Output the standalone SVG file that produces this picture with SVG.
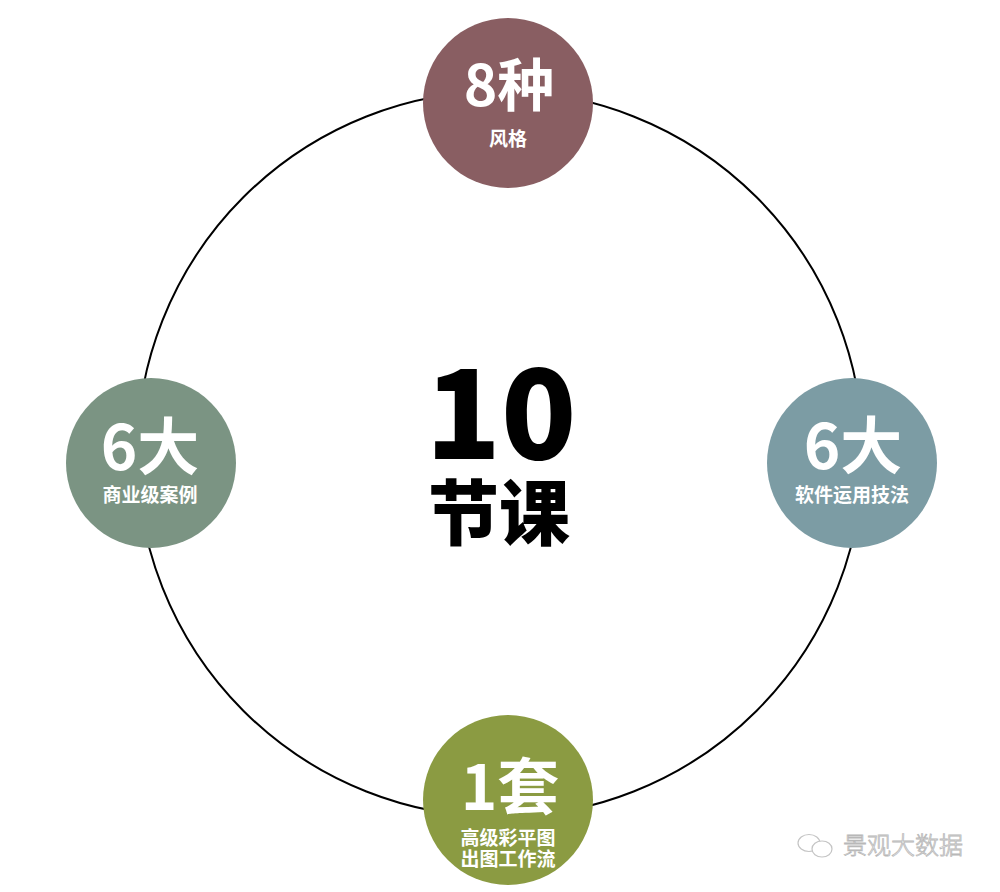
<svg xmlns="http://www.w3.org/2000/svg" width="1000" height="892" viewBox="0 0 1000 892">
<style>
.big{font-family:"Noto Sans CJK SC","Noto Sans",sans-serif;font-weight:700;fill:#fff;text-anchor:middle}
.sub{font-family:"Noto Sans CJK SC","Noto Sans",sans-serif;font-weight:700;fill:#fff;text-anchor:middle;font-size:19px}
.ctr{font-family:"Noto Sans CJK SC","Noto Sans",sans-serif;font-weight:900;fill:#000;text-anchor:middle}
</style>
<rect width="1000" height="892" fill="#fff"/>
<g id="connectors">
<circle cx="500" cy="454" r="363" fill="none" stroke="#000" stroke-width="2"/>
</g>
<g id="center">
<text class="ctr" x="501" y="459" font-size="124">10</text>
<text class="ctr" x="499" y="539" font-size="71">节课</text>
</g>
<g id="top">
<circle cx="508" cy="103" r="85" fill="#895E62"/>
<text class="big" x="509" y="106" font-size="57">8种</text>
<text class="sub" x="508" y="146">风格</text>
</g>
<g id="left">
<circle cx="151" cy="463" r="85" fill="#7B9483"/>
<text class="big" x="150" y="470" font-size="62">6大</text>
<text class="sub" x="150" y="502">商业级案例</text>
</g>
<g id="right">
<circle cx="852" cy="463" r="85" fill="#7C9CA4"/>
<text class="big" x="853" y="469" font-size="62">6大</text>
<text class="sub" x="852" y="502">软件运用技法</text>
</g>
<g id="bottom">
<circle cx="508" cy="800" r="85" fill="#8B9B42"/>
<text class="big" x="510" y="810" font-size="62">1套</text>
<text class="sub" x="508" y="845">高级彩平图</text>
<text class="sub" x="508" y="866">出图工作流</text>
</g>
<g id="watermark" fill="#fff" stroke="#c4c4c4" stroke-width="1.2">
<ellipse cx="809" cy="843" rx="11" ry="8.5"/>
<ellipse cx="822" cy="849" rx="10" ry="8"/>
<text x="843" y="854" font-family="Noto Sans CJK SC,sans-serif" font-size="24" font-weight="300" fill="#fff" stroke="#b8b8b8" stroke-width="0.8">景观大数据</text>
</g>
</svg>
